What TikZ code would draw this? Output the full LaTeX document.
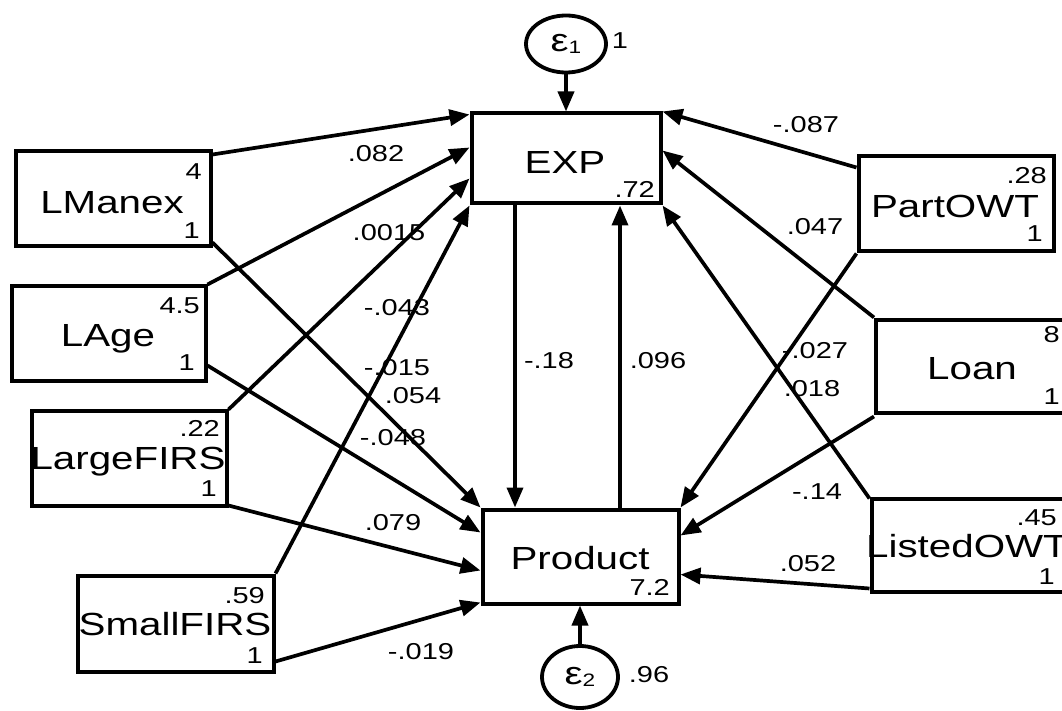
\documentclass[tikz,border=0pt]{standalone}
\usepackage{fontspec}
\setmainfont[FakeStretch=1.26]{Liberation Sans}
\usetikzlibrary{arrows.meta,calc,shapes.geometric}

\begin{document}
\begin{tikzpicture}[x=1pt,y=-1pt,
  var/.style={draw, line width=4pt, rectangle, inner sep=0pt},
  err/.style={draw, line width=3.8pt, ellipse, inner sep=0pt},
  lbl/.style={font=\fontsize{32}{32}\selectfont, inner sep=0pt, text height=23pt, text depth=0pt},
  numl/.style={font=\fontsize{23}{23}\selectfont, inner sep=0pt, text height=16.5pt, text depth=0pt, anchor=east},
  coef/.style={font=\fontsize{23}{23}\selectfont, inner sep=0pt, text height=16.5pt, text depth=0pt},
  link/.style={line width=3.7pt, -{Triangle[length=20pt,width=16pt]}},
]
\useasboundingbox (0,0) rectangle (1062,711);
\clip (0,0) rectangle (1062,711);

% observed variables on the left
\node[var, minimum width=195pt, minimum height=95pt] (lmanex) at (113,199) {};
\node[var, minimum width=194pt, minimum height=95pt] (lage) at (108.5,333) {};
\node[var, minimum width=195pt, minimum height=95pt] (large) at (129,458) {};
\node[var, minimum width=196pt, minimum height=96pt] (small) at (175.5,623.5) {};

% endogenous variables
\node[var, minimum width=189pt, minimum height=90pt] (exp) at (566,158.5) {};
\node[var, minimum width=196pt, minimum height=94pt] (prod) at (580.5,556.5) {};

% observed variables on the right
\node[var, minimum width=195pt, minimum height=95pt] (part) at (956,204) {};
\node[var, minimum width=193pt, minimum height=93pt] (loan) at (972.5,366) {};
\node[var, minimum width=195pt, minimum height=93pt] (listed) at (969,545) {};

% error terms
\node[err, minimum width=80pt, minimum height=57pt] (e1) at (566,44)
  {\fontsize{32}{32}\selectfont ε\raisebox{-2pt}{\fontsize{18}{18}\selectfont 1}};
\node[err, minimum width=76pt, minimum height=62pt] (e2) at (580,677)
  {\fontsize{32}{32}\selectfont ε\raisebox{-2pt}{\fontsize{18}{18}\selectfont 2}};
\node[coef] (e1v) at (620,40) {1};
\node[coef] (e2v) at (649,674) {.96};

% variable names
\node[lbl] (tlmanex) at (112,202) {LManex};
\node[lbl] (tlage) at (108,335) {LAge};
\node[lbl] (tlarge) at (128,458) {LargeFIRS};
\node[lbl] (tsmall) at (175,624) {SmallFIRS};
\node[lbl] (texp) at (565,162) {EXP};
\node[lbl] (tprod) at (580,558) {Product};
\node[lbl] (tpart) at (955,206) {PartOWT};
\node[lbl] (tloan) at (972,368) {Loan};
\node[lbl] (tlisted) at (967,546) {ListedOWT};

% means, variances and intercepts
\node[numl] at (202,171) {4};
\node[numl] at (200,230) {1};
\node[numl] at (200,305) {4.5};
\node[numl] at (195,362) {1};
\node[numl] at (220,428) {.22};
\node[numl] at (217,488) {1};
\node[numl] at (265,595) {.59};
\node[numl] at (263,655) {1};
\node[numl] at (655,189) {.72};
\node[numl] at (670,587) {7.2};
\node[numl] at (1047,175) {.28};
\node[numl] at (1043,233) {1};
\node[numl] at (1060,334) {8};
\node[numl] at (1060,396) {1};
\node[numl] at (1057,517) {.45};
\node[numl] at (1055,576) {1};

% paths into EXP
\draw[link] ($(lmanex.north east)+(0,5)$) -- ($(exp.north west)+(0,3)$);
\draw[link] ($(lage.north east)+(0,1)$) -- ($(exp.west)+(0,-11)$);
\draw[link] ($(large.north east)+(0,1)$) -- ($(exp.west)+(0,20)$);
\draw[link] (small.north east) -- (exp.south west);
\draw[link] ($(part.north west)+(0,13)$) -- (exp.north east);
\draw[link] (loan.north west) -- ($(exp.east)+(0,-8)$);
\draw[link] ($(listed.north west)+(0,2)$) -- (exp.south east);
\draw[link] (e1.south) -- (e1.south |- exp.north);

% paths into Product
\draw[link] ($(lmanex.south east)+(0,-6)$) -- (prod.north west);
\draw[link] ($(lage.south east)+(0,-17)$) -- ($(prod.north west)+(0,25)$);
\draw[link] ($(large.south east)+(0,-2)$) -- ($(prod.west)+(0,14)$);
\draw[link] ($(small.south east)+(0,-12)$) -- ($(prod.south west)+(0,-3)$);
\draw[link] (part.south west) -- (prod.north east);
\draw[link] ($(loan.south west)+(0,2)$) -- ($(prod.east)+(0,-21)$);
\draw[link] ($(listed.south west)+(0,-5)$) -- ($(prod.east)+(0,18)$);
\draw[link] (e2.north) -- (e2.north |- prod.south);

% reciprocal paths
\draw[link] ($(exp.south)+(-51,0)$) coordinate (dn) -- (dn |- prod.north);
\draw[link] ($(prod.north)+(39.5,0)$) coordinate (up) -- (up |- exp.south);

% path coefficients
\node[coef] at (376,153) {.082};
\node[coef] at (389,232) {.0015};
\node[coef] at (397,307) {-.043};
\node[coef] at (397,367) {-.015};
\node[coef] at (413,395) {.054};
\node[coef] at (393,437) {-.048};
\node[coef] at (393,522) {.079};
\node[coef] at (421,651) {-.019};
\node[coef] at (549,360) {-.18};
\node[coef] at (658,360) {.096};
\node[coef] at (806,124) {-.087};
\node[coef] at (815,226) {.047};
\node[coef] at (815,350) {-.027};
\node[coef] at (812,388) {.018};
\node[coef] at (817,491) {-.14};
\node[coef] at (808,563) {.052};
\end{tikzpicture}
\end{document}
